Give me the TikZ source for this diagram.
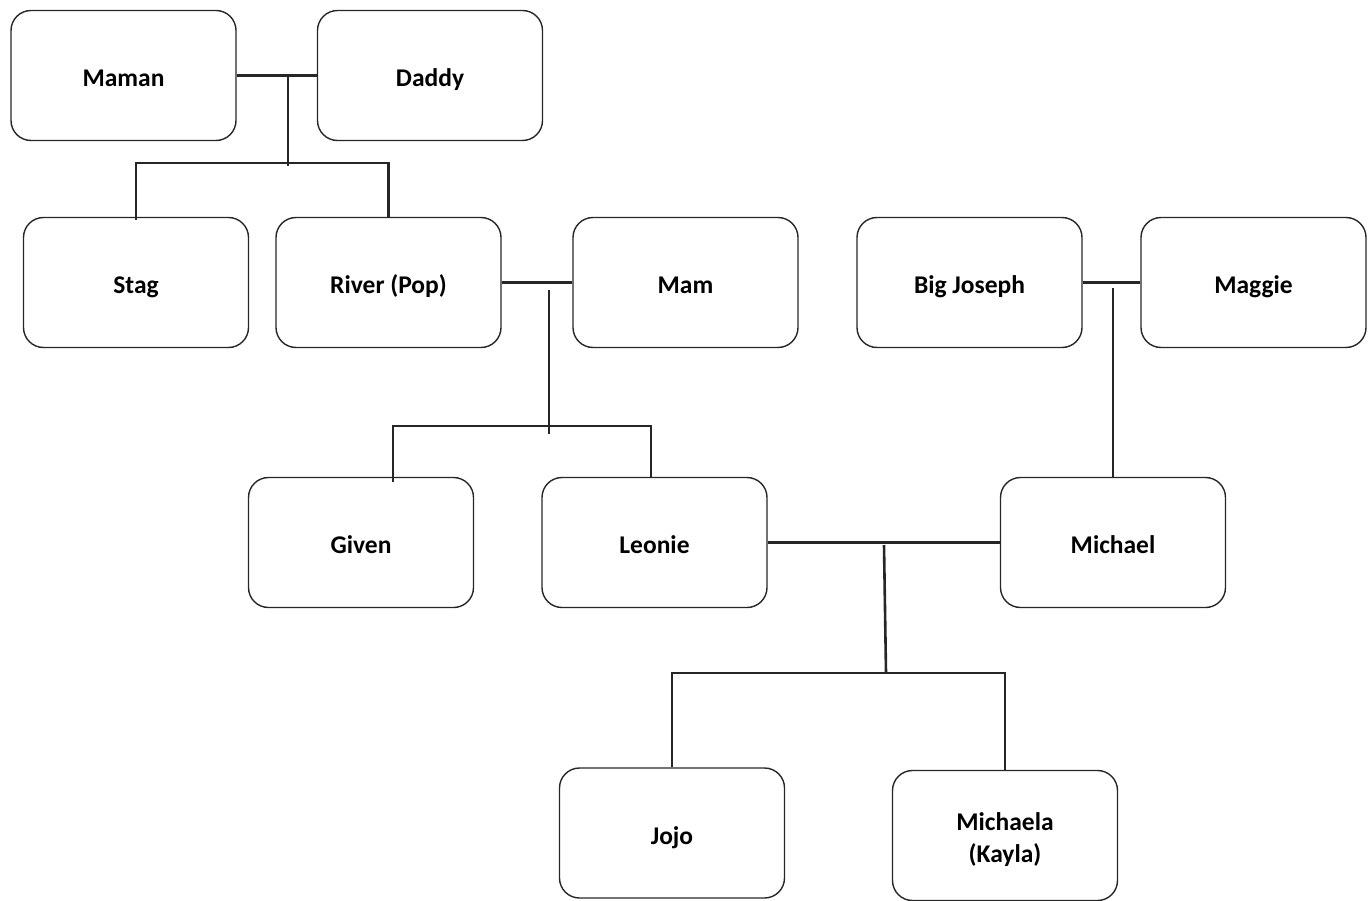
\documentclass[tikz,border=0pt]{standalone}
\usepackage{fontspec}
\setmainfont{Carlito}
\begin{document}
\begin{tikzpicture}[x=1pt,y=-1pt,
  person/.style={draw=black!85,line width=1.4pt,rounded corners=20pt,
    minimum width=225pt,minimum height=130pt,align=center,
    font=\fontsize{25.5}{32}\selectfont\bfseries,inner sep=0pt,
    execute at begin node={\rule[-9pt]{0pt}{40pt}}},
  twotext/.style={align=center,font=\fontsize{25.5}{32}\selectfont\bfseries,
    inner sep=0pt,yshift=-4.5pt},
  link/.style={line width=2.6pt,black!85}]
\useasboundingbox (0,0) rectangle (1372,901);
\node[person] (maman) at (123.5,75.5) {Maman};
\node[person] (daddy) at (430,75.5) {Daddy};
\node[person] (stag) at (136,282.5) {Stag};
\node[person] (river) at (388.5,282.5) {River (Pop)};
\node[person] (mam) at (685.5,282.5) {Mam};
\node[person] (bigjoseph) at (969.5,282.5) {Big Joseph};
\node[person] (maggie) at (1253.5,282.5) {Maggie};
\node[person] (given) at (361,542.5) {Given};
\node[person] (leonie) at (654.5,542.5) {Leonie};
\node[person] (michael) at (1113,542.5) {Michael};
\node[person] (jojo) at (672,833) {Jojo};
\node[person,execute at begin node={},
  label={[twotext]center:Michaela\\(Kayla)}] (michaela) at (1005,835.5) {};
% Maman + Daddy
\coordinate (m1) at (288,75.5);
\coordinate (b1) at (288,163);
\draw[link] (maman.east) -- (daddy.west);
\draw[link] (m1) -- ([yshift=-3pt]b1);
\draw[link] ([yshift=-3pt]stag.north) |- (b1) -| (river.north);
% River + Mam
\coordinate (m2) at (549,290);
\coordinate (b2) at (549,426);
\draw[link] (river.east) -- (mam.west);
\draw[link] (m2) -- ([yshift=-8pt]b2);
\draw[link] ([xshift=32pt,yshift=-5pt]given.north) |- (b2) -| ([xshift=-3.5pt]leonie.north);
% Big Joseph + Maggie
\coordinate (m3) at (1113,288);
\draw[link] (bigjoseph.east) -- (maggie.west);
\draw[link] (m3) -- (michael.north);
% Leonie + Michael
\coordinate (m4) at (884,545);
\coordinate (b4) at (886,673);
\draw[link] (leonie.east) -- (michael.west);
\draw[link] (m4) -- (b4);
\draw[link] (jojo.north) |- (b4) -| (michaela.north);
\end{tikzpicture}
\end{document}
